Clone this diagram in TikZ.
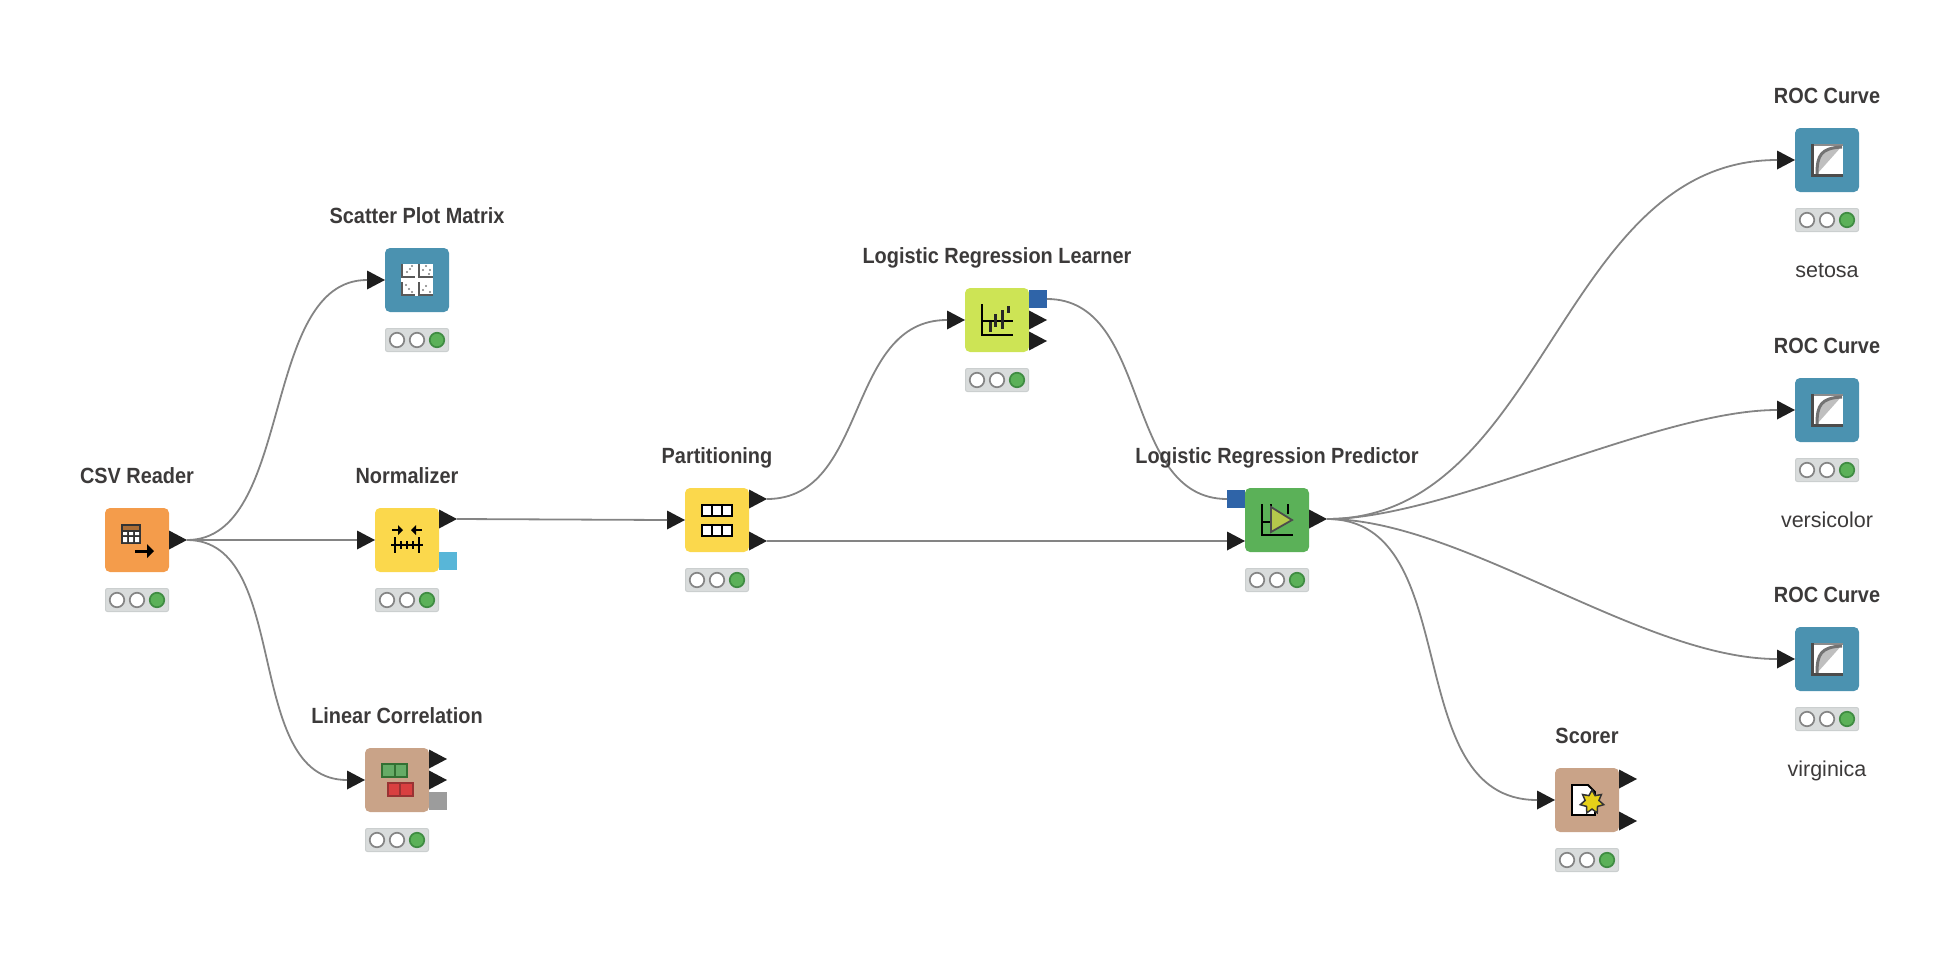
\documentclass[tikz,border=0pt]{standalone}
\usepackage{fontspec}
\usetikzlibrary{shapes.geometric}
\setmainfont{Liberation Sans}
\newfontfamily\narrowfont[FakeStretch=.905]{Liberation Sans}
\definecolor{wirecol}{HTML}{848484}
\definecolor{portcol}{HTML}{1E1E1E}
\definecolor{textcol}{HTML}{3C3A3A}
\definecolor{csvcol}{HTML}{F49C4B}
\definecolor{maniccol}{HTML}{FBD84C}
\definecolor{tancol}{HTML}{C9A388}
\definecolor{viewcol}{HTML}{4B92B0}
\definecolor{learncol}{HTML}{CDE455}
\definecolor{predcol}{HTML}{5BB158}
\definecolor{modelcol}{HTML}{2F64A8}
\definecolor{normcol}{HTML}{58B6D8}
\definecolor{graycol}{HTML}{9C9C9C}
\definecolor{boxcol}{HTML}{D9DCDC}
\definecolor{boxline}{HTML}{CBCFCF}
\definecolor{lightline}{HTML}{858585}
\definecolor{onlight}{HTML}{3F8C42}
\begin{document}
\begin{tikzpicture}[x=1pt,y=-1pt]
	\useasboundingbox (0,0) rectangle (1948,964);
	\def \rowmid{520}
	\def \rowcsv{540}
	\def \colroc{1827}
	\tikzstyle{k-node}=[rectangle,rounded corners=5pt,inner sep=0pt,minimum size=64pt]
	\tikzstyle{in-port}=[isosceles triangle,isosceles triangle stretches,anchor=lower side,fill=portcol,inner sep=0pt,outer sep=0pt,minimum width=19pt,minimum height=18pt]
	\tikzstyle{sq-port}=[rectangle,inner sep=0pt,outer sep=0pt,minimum size=18pt]
	\tikzstyle{annot}=[anchor=base,inner sep=0pt,font=\narrowfont\bfseries\fontsize{22}{26}\selectfont,text=textcol]
	\tikzstyle{sub-annot}=[anchor=base,inner sep=0pt,font=\fontsize{21.5}{26}\selectfont,text=textcol]
	\tikzstyle{light-box}=[rectangle,rounded corners=2pt,fill=boxcol,draw=boxline,line width=1pt,inner sep=0pt,minimum width=63pt,minimum height=23pt]
	\tikzstyle{light}=[circle,fill=white,draw=lightline,line width=1.7pt,inner sep=0pt,minimum size=14.5pt]
	\tikzstyle{light-on}=[light,fill=predcol,draw=onlight]
	\tikzstyle{wire}=[draw=wirecol,line width=1.8pt]
	\tikzstyle{ink}=[draw=black,line width=1.8pt]
	% status lights below a node
	\def\lights#1#2#3{
		\node[light-box] (#1-box) at (#2,#3+60) {};
		\node[light] (#1-a) at (#2-20,#3+60) {};
		\node[light] (#1-b) at (#2,#3+60) {};
		\node[light-on] (#1-c) at (#2+20,#3+60) {};
	}
	% roc icon, same in all three
	\def\rocicon#1{
		\begin{scope}[shift={(\colroc,#1)}]
			\fill[white] (-16,-16) rectangle (16,16);
			\fill[black!25] (-10,14) .. controls (-10,-5) and (-6,-12) .. (15,-14) -- cycle;
			\draw[black!45,line width=2pt] (-15,-15) -- (16,-15);
			\draw[black!55,line width=3pt] (-10,14) .. controls (-10,-5) and (-6,-12) .. (15,-13);
			\draw[black!70,line width=3pt] (-14.5,-16) -- (-14.5,15) -- (16,15);
		\end{scope}
	}
	% nodes
	\node[k-node,fill=csvcol] 	(csv)	at (137,\rowcsv)	{};
	\node[k-node,fill=maniccol] 	(norm)	at (407,\rowcsv)	{};
	\node[k-node,fill=tancol] 	(corr)	at (397,780)		{};
	\node[k-node,fill=viewcol] 	(spm)	at (417,280)		{};
	\node[k-node,fill=maniccol] 	(part)	at (717,\rowmid)	{};
	\node[k-node,fill=learncol] 	(learn)	at (997,320)		{};
	\node[k-node,fill=predcol] 	(pred)	at (1277,\rowmid)	{};
	\node[k-node,fill=viewcol] 	(roca)	at (\colroc,160)	{};
	\node[k-node,fill=viewcol] 	(rocb)	at (\colroc,410)	{};
	\node[k-node,fill=viewcol] 	(rocc)	at (\colroc,659)	{};
	\node[k-node,fill=tancol] 	(score)	at (1587,800)		{};
	\lights{csv}{137}{\rowcsv}
	\lights{norm}{407}{\rowcsv}
	\lights{corr}{397}{780}
	\lights{spm}{417}{280}
	\lights{part}{717}{\rowmid}
	\lights{learn}{997}{320}
	\lights{pred}{1277}{\rowmid}
	\lights{roca}{\colroc}{160}
	\lights{rocb}{\colroc}{410}
	\lights{rocc}{\colroc}{659}
	\lights{score}{1587}{800}
	% ports
	\node[in-port] (csv-o)		at (169,540)	{};
	\node[in-port] (norm-i)		at (357,540)	{};
	\node[in-port] (norm-o)		at (439,519)	{};
	\node[sq-port,fill=normcol] (norm-m) at (448,561) {};
	\node[in-port] (corr-i)		at (347,780)	{};
	\node[in-port] (corr-o1)	at (429,759)	{};
	\node[in-port] (corr-o2)	at (429,780)	{};
	\node[sq-port,fill=graycol] (corr-m) at (438,801) {};
	\node[in-port] (spm-i)		at (367,280)	{};
	\node[in-port] (part-i)		at (667,520)	{};
	\node[in-port] (part-o1)	at (749,499)	{};
	\node[in-port] (part-o2)	at (749,541)	{};
	\node[in-port] (learn-i)	at (947,320)	{};
	\node[sq-port,fill=modelcol] (learn-m) at (1038,299) {};
	\node[in-port] (learn-o1)	at (1029,320)	{};
	\node[in-port] (learn-o2)	at (1029,341)	{};
	\node[sq-port,fill=modelcol] (pred-m) at (1236,499) {};
	\node[in-port] (pred-i)		at (1227,541)	{};
	\node[in-port] (pred-o)		at (1309,519)	{};
	\node[in-port] (roca-i)		at (1777,160)	{};
	\node[in-port] (rocb-i)		at (1777,410)	{};
	\node[in-port] (rocc-i)		at (1777,659)	{};
	\node[in-port] (score-i)	at (1537,800)	{};
	\node[in-port] (score-o1)	at (1619,779)	{};
	\node[in-port] (score-o2)	at (1619,821)	{};
	% connectors
	\path[wire] (csv-o.apex)	edge[out=0,in=180,distance=107pt]	(spm-i.lower side)
		(csv-o.apex)	edge	(norm-i.lower side)
		(csv-o.apex)	edge[out=0,in=180,distance=105pt]	(corr-i.lower side)
		(norm-o.apex)	edge	(part-i.lower side)
		(part-o1.apex)	edge[out=0,in=180,distance=102pt]	(learn-i.lower side)
		(part-o2.apex)	edge	(pred-i.lower side)
		(learn-m.east)	edge[out=0,in=180,distance=105pt]	(pred-m.west)
		(pred-o.apex)	edge[out=0,in=180,distance=218pt]	(roca-i.lower side)
		(pred-o.apex)	edge[out=0,in=180,distance=120pt]	(rocb-i.lower side)
		(pred-o.apex)	edge[out=0,in=180,distance=135pt]	(rocc-i.lower side)
		(pred-o.apex)	edge[out=0,in=180,distance=140pt]	(score-i.lower side);
	% labels
	\node[annot] (csv-label)	at (137,483)	{CSV Reader};
	\node[annot] (norm-label)	at (407,483)	{Normalizer};
	\node[annot] (corr-label)	at (397,723)	{Linear Correlation};
	\node[annot] (spm-label)	at (417,223)	{Scatter Plot Matrix};
	\node[annot] (part-label)	at (717,463)	{Partitioning};
	\node[annot] (learn-label)	at (997,263)	{Logistic Regression Learner};
	\node[annot] (pred-label)	at (1277,463)	{Logistic Regression Predictor};
	\node[annot] (roca-label)	at (\colroc,103)	{ROC Curve};
	\node[annot] (rocb-label)	at (\colroc,353)	{ROC Curve};
	\node[annot] (rocc-label)	at (\colroc,602)	{ROC Curve};
	\node[annot] (score-label)	at (1587,743)	{Scorer};
	\node[sub-annot] (roca-sub)	at (\colroc,277)	{setosa};
	\node[sub-annot] (rocb-sub)	at (\colroc,527)	{versicolor};
	\node[sub-annot] (rocc-sub)	at (\colroc,776)	{virginica};
	% icon: csv reader
	\begin{scope}[shift={(137,540)}]
		\fill[black!80] (-16,-16) rectangle (4,4);
		\fill[csvcol!70!black] (-14,-14) rectangle (2,-10);
		\fill[white] (-14,-8) rectangle (-10,-5) (-8,-8) rectangle (-4,-5) (-2,-8) rectangle (2,-5)
			(-14,-3) rectangle (-10,2) (-8,-3) rectangle (-4,2) (-2,-3) rectangle (2,2);
		\draw[black,line width=3pt] (-2,11) -- (12,11);
		\fill[black] (10,4) -- (17,11) -- (10,18) -- cycle;
	\end{scope}
	% icon: normalizer
	\begin{scope}[shift={(407,540)}]
		\draw[black,line width=2pt] (-15,-10) -- (-8,-10);
		\fill[black] (-9,-15) -- (-4,-10) -- (-9,-5) -- cycle;
		\draw[black,line width=2pt] (15,-10) -- (8,-10);
		\fill[black] (9,-15) -- (4,-10) -- (9,-5) -- cycle;
		\draw[black,line width=1.8pt] (-16,5) -- (16,5) (-12,-3) -- (-12,13) (12,-3) -- (12,13)
			(-6,1) -- (-6,9) (0,1) -- (0,9) (6,1) -- (6,9);
	\end{scope}
	% icon: linear correlation
	\begin{scope}[shift={(397,780)}]
		\draw[draw=green!30!black!80,fill=green!45!black!60,line width=2pt] (-15,-16) rectangle (10,-3);
		\draw[draw=green!30!black!80,line width=1.5pt] (-2,-16) -- (-2,-3);
		\draw[draw=red!50!black!80,fill=red!80!black!75,line width=2pt] (-9,3) rectangle (16,16);
		\draw[draw=red!50!black!80,line width=1.5pt] (3,3) -- (3,16);
	\end{scope}
	% icon: scatter matrix
	\begin{scope}[shift={(417,280)}]
		\fill[white] (-16,-16) rectangle (16,16);
		\draw[black!65,line width=2.5pt] (-15,-16) -- (-15,-3) -- (-2,-3) (2,-16) -- (2,-3) -- (16,-3)
			(-15,2) -- (-15,15) -- (-2,15) (2,2) -- (2,15) -- (16,15);
		\fill[black!50] (-10,-8) circle (1.2) (-7,-11) circle (1.2) (-5,-14) circle (1.2)
			(6,-10) circle (1.2) (9,-14) circle (1.2) (13,-10) circle (1.2) (12,-6) circle (1.2)
			(-11,5) circle (1.2) (-8,9) circle (1.2) (-5,12) circle (1.2)
			(6,10) circle (1.2) (9,6) circle (1.2) (13,12) circle (1.2);
	\end{scope}
	% icon: partitioning
	\begin{scope}[shift={(717,520)}]
		\draw[ink,fill=white,line width=2.5pt] (-15,-15) rectangle (15,-4);
		\draw[ink,line width=2.5pt] (-5,-15) -- (-5,-4) (5,-15) -- (5,-4);
		\draw[ink,fill=white,line width=2.5pt] (-15,5) rectangle (15,16);
		\draw[ink,line width=2.5pt] (-5,5) -- (-5,16) (5,5) -- (5,16);
	\end{scope}
	% icon: learner
	\begin{scope}[shift={(997,320)}]
		\draw[ink] (-15,-16) -- (-15,15) -- (16,15);
		\draw[ink] (-15,1) -- (16,1);
		\draw[black!85,line width=3pt] (-7,2) -- (-7,12) (-2,-6) -- (-2,7) (5,-10) -- (5,9) (11,-14) -- (11,-7);
	\end{scope}
	% icon: predictor
	\begin{scope}[shift={(1277,520)}]
		\draw[ink] (-15,-16) -- (-15,15) -- (16,15);
		\draw[ink] (-15,2) -- (-6,2) (-6,-16) -- (-6,-10) (11,-16) -- (11,-6);
		\draw[draw=black!70,fill=learncol!88!black,line width=1.8pt] (-6,-13) -- (15,0) -- (-6,12) -- cycle;
	\end{scope}
	% icon: roc curves
	\rocicon{160}
	\rocicon{410}
	\rocicon{659}
	% icon: scorer
	\begin{scope}[shift={(1587,800)}]
		\draw[ink,fill=white] (-15,-15) -- (1,-15) -- (8,-8) -- (8,15) -- (-15,15) -- cycle;
		\node[star,star points=7,star point ratio=1.7,fill=yellow!85!orange!90!black,draw=black!80,line width=1.5pt,inner sep=0pt,minimum size=24pt] (score-star) at (5,2) {};
	\end{scope}
\end{tikzpicture}
\end{document}
